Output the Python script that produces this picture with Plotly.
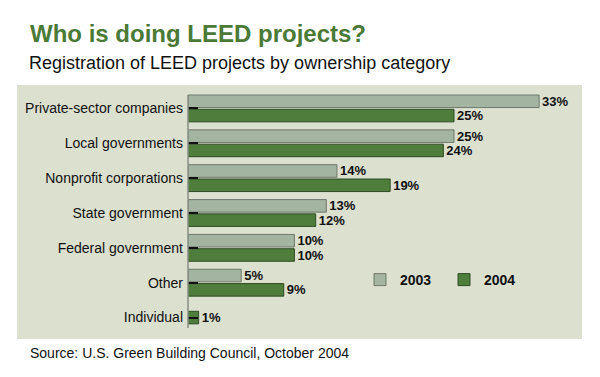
import plotly.graph_objects as go

categories = ["Private-sector companies", "Local governments", "Nonprofit corporations",
              "State government", "Federal government", "Other", "Individual"]
values_2003 = [33, 25, 14, 13, 10, 5, None]
values_2004 = [25, 24, 19, 12, 10, 9, 1]
series_names = ["2003", "2004"]

FONT = "Liberation Sans, Arial, sans-serif"
PANEL = "#dbe0cf"
C2003 = "#a3b5a0"
C2004 = "#4f7d3b"

# bar thickness / placement (style, in category units)
BW = 0.36
GAP = 0.05
off_2003 = [-(BW + GAP / 2)] * len(categories)
off_2004 = [GAP / 2 if v is not None else -BW / 2 for v in values_2003]

fig = go.Figure()
fig.add_trace(go.Bar(
    y=categories, x=values_2003, name=series_names[0], orientation="h",
    width=BW, offset=off_2003,
    marker=dict(color=C2003, line=dict(color="#6f786c", width=1)),
    texttemplate="%{x}%", textposition="outside", constraintext="none",
    textfont=dict(family=FONT, size=13, color="#111111", weight="bold"),
    cliponaxis=False,
))
fig.add_trace(go.Bar(
    y=categories, x=values_2004, name=series_names[1], orientation="h",
    width=BW, offset=off_2004,
    marker=dict(color=C2004, line=dict(color="#2e4d24", width=1)),
    texttemplate="%{x}%", textposition="outside", constraintext="none",
    textfont=dict(family=FONT, size=13, color="#111111", weight="bold"),
    cliponaxis=False,
))

# page has an 8px body margin: figure covers page pixels 8..600 / 8..377
OFF = 8
W, H = 600 - OFF, 377 - OFF
L, R, T, B = 188 - OFF, 18, 91 - OFF, 42
pw, ph = W - L - R, H - T - B

def px_x(x):
    return (x - OFF - L) / pw

def px_y(y):
    return (H - B - (y - OFF)) / ph

fig.update_layout(
    width=W, height=H,
    margin=dict(l=L, r=R, t=T, b=B, autoexpand=False),
    paper_bgcolor="white",
    plot_bgcolor=PANEL,
    barmode="group",
    font=dict(family=FONT, size=14, color="#111111"),
    xaxis=dict(range=[0, 37.03], showgrid=False, zeroline=False, showticklabels=False,
               ticks="", showline=False, fixedrange=True, automargin=False),
    yaxis=dict(autorange="reversed", showgrid=False, zeroline=False, automargin=False,
               ticks="inside", ticklen=10, tickwidth=2, tickcolor="#111111",
               showline=False, ticklabelstandoff=4,
               tickfont=dict(family=FONT, size=14, color="#111111")),
    showlegend=True,
    legend=dict(orientation="h", x=px_x(360), y=px_y(280), xanchor="left", yanchor="middle",
                bgcolor="rgba(0,0,0,0)", traceorder="normal",
                entrywidth=39, entrywidthmode="pixels",
                font=dict(family=FONT, size=14, color="#111111", weight="bold")),
    shapes=[
        dict(type="rect", xref="paper", yref="paper", layer="below",
             x0=px_x(17), x1=px_x(582), y0=px_y(339), y1=px_y(85),
             fillcolor=PANEL, line=dict(width=0)),
        dict(type="line", xref="paper", yref="paper", layer="above",
             x0=px_x(188), x1=px_x(188), y0=px_y(328), y1=px_y(95),
             line=dict(color="#8a8f86", width=1.5)),
    ],
    annotations=[
        dict(text="<b>Who is doing LEED projects?</b>", xref="paper", yref="paper",
             x=px_x(28), y=px_y(33), xanchor="left", yanchor="middle", showarrow=False,
             font=dict(family=FONT, size=24, color="#4a7a36")),
        dict(text="Registration of LEED projects by ownership category", xref="paper", yref="paper",
             x=px_x(27), y=px_y(63), xanchor="left", yanchor="middle", showarrow=False,
             font=dict(family=FONT, size=18, color="#111111")),
        dict(text="Source: U.S. Green Building Council, October 2004", xref="paper", yref="paper",
             x=px_x(28), y=px_y(353), xanchor="left", yanchor="middle", showarrow=False,
             font=dict(family=FONT, size=14, color="#111111")),
    ],
)

fig.write_html("out.html")
